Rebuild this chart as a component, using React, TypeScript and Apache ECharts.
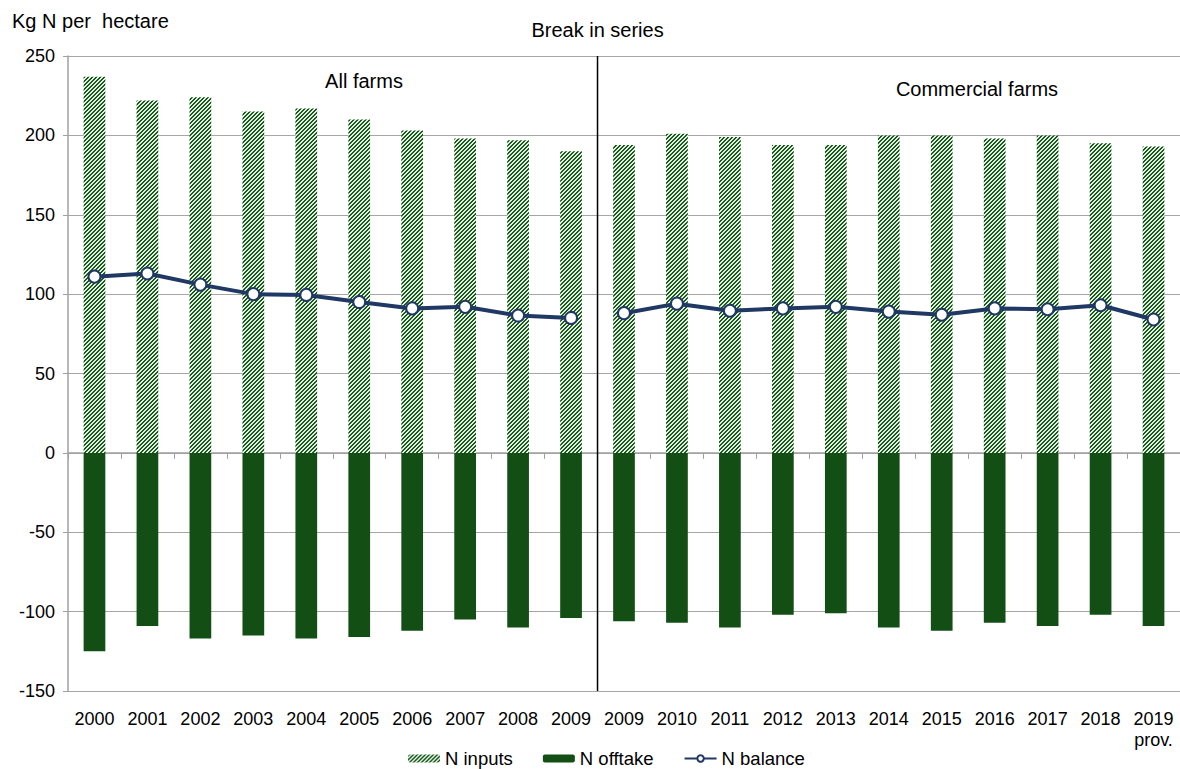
import React, { useEffect, useRef } from "react";
import * as echarts from "echarts";

const categories = ["2000","2001","2002","2003","2004","2005","2006","2007","2008","2009","2009","2010","2011","2012","2013","2014","2015","2016","2017","2018","2019\nprov."];
const nInputs = [237,222,224,215,217,210,203,198,197,190,194,201,199,194,194,200,200,198,200,195,193];
const nOfftake = [-125,-109,-117,-115,-117,-116,-112,-105,-110,-104,-106,-107,-110,-102,-101,-110,-112,-107,-109,-102,-109];
const nBalanceAll = [111,113,106,100,99.5,95,91,92,86.5,85];
const nBalanceCommercial = [88,94,89.5,91,92,89,87,91,90.5,93,84];
const yTicks = { min: -150, max: 250, interval: 50 };

const FONT = "'Liberation Sans', Arial, sans-serif";

function makeHatch(): HTMLCanvasElement {
  const c = document.createElement("canvas");
  const s = 8;
  c.width = s;
  c.height = s;
  const ctx = c.getContext("2d")!;
  ctx.fillStyle = "#e4eee4";
  ctx.fillRect(0, 0, s, s);
  ctx.fillStyle = "#185a1a";
  for (let x = 0; x < s; x++) {
    for (let y = 0; y < s; y++) {
      const d = (x + y) % 4;
      if (d === 0 || d === 1) ctx.fillRect(x, y, 1, 1);
    }
  }
  return c;
}

export default function App() {
  const ref = useRef<HTMLDivElement>(null);
  useEffect(() => {
    if (!ref.current) return;
    const chart = echarts.init(ref.current, undefined, { renderer: "svg" });
    const hatch = makeHatch();
    const balA = categories.map((_, i) => (i < nBalanceAll.length ? nBalanceAll[i] : "-"));
    const balC = categories.map((_, i) =>
      i < nBalanceAll.length ? "-" : nBalanceCommercial[i - nBalanceAll.length]
    );
    const lineColor = "#1f3864";
    chart.setOption({
      animation: false,
      textStyle: { fontFamily: FONT },
      grid: { left: 68, right: 0, top: 56, bottom: 78, containLabel: false },
      legend: {
        data: ["N inputs", "N offtake", "N balance"],
        top: 749,
        left: 408,
        padding: 0,
        itemWidth: 32,
        itemHeight: 8,
        itemGap: 30,
        textStyle: { fontSize: 18.5, color: "#000", fontFamily: FONT },
      },
      xAxis: [
        {
          type: "category",
          data: categories,
          position: "bottom",
          axisLine: { show: false, onZero: false },
          axisTick: { show: false },
          axisLabel: { fontSize: 18, color: "#000", margin: 17, interval: 0, lineHeight: 21, fontFamily: FONT },
          splitLine: { show: false },
        },
        {
          type: "category",
          data: categories,
          position: "bottom",
          axisLine: { show: true, onZero: true, lineStyle: { color: "#a0a0a0", width: 1.5 } },
          axisTick: { show: true, interval: 0, length: 6, lineStyle: { color: "#a0a0a0" } },
          axisLabel: { show: false },
          splitLine: { show: false },
        },
      ],
      yAxis: {
        type: "value",
        min: yTicks.min,
        max: yTicks.max,
        interval: yTicks.interval,
        axisLine: { show: true, lineStyle: { color: "#a0a0a0", width: 1.5 } },
        axisTick: { show: true, length: 5, lineStyle: { color: "#a0a0a0" } },
        axisLabel: { fontSize: 18, color: "#000", margin: 13, fontFamily: FONT },
        splitLine: { show: true, lineStyle: { color: "#a6a6a6", width: 1.2 } },
      },
      series: [
        {
          name: "N inputs",
          type: "bar",
          stack: "n",
          barWidth: "41%",
          xAxisIndex: 0,
          data: nInputs,
          itemStyle: { color: { image: hatch, repeat: "repeat" } },
        },
        {
          name: "N offtake",
          type: "bar",
          stack: "n",
          barWidth: "41%",
          xAxisIndex: 0,
          data: nOfftake,
          itemStyle: { color: "#134f15" },
        },
        {
          name: "N balance",
          type: "line",
          xAxisIndex: 0,
          data: balA,
          symbol: "circle",
          symbolSize: 12,
          lineStyle: { color: lineColor, width: 4 },
          itemStyle: { color: "#ffffff", borderColor: lineColor, borderWidth: 2 },
          z: 5,
        },
        {
          name: "N balance",
          type: "line",
          xAxisIndex: 0,
          data: balC,
          symbol: "circle",
          symbolSize: 12,
          lineStyle: { color: lineColor, width: 4 },
          itemStyle: { color: "#ffffff", borderColor: lineColor, borderWidth: 2 },
          z: 5,
        },
      ],
    });
    const x9 = chart.convertToPixel({ xAxisIndex: 0 }, 9) as number;
    const x10 = chart.convertToPixel({ xAxisIndex: 0 }, 10) as number;
    const bx = (x9 + x10) / 2;
    const yTop = chart.convertToPixel({ yAxisIndex: 0 }, yTicks.max) as number;
    const yBot = chart.convertToPixel({ yAxisIndex: 0 }, yTicks.min) as number;
    chart.setOption({
      graphic: [
        {
          type: "line",
          shape: { x1: bx, y1: yTop, x2: bx, y2: yBot },
          style: { stroke: "#000", lineWidth: 1.5 },
          z: 10,
        },
        {
          type: "text",
          x: 12,
          y: 11,
          style: { text: "Kg N per  hectare", fontSize: 20, fill: "#000", fontFamily: FONT },
        },
        {
          type: "text",
          x: bx,
          y: 20,
          style: { text: "Break in series", fontSize: 20, fill: "#000", fontFamily: FONT, textAlign: "center" },
        },
        {
          type: "text",
          x: 364,
          y: 71,
          style: { text: "All farms", fontSize: 20, fill: "#000", fontFamily: FONT, textAlign: "center" },
        },
        {
          type: "text",
          x: 977,
          y: 79,
          style: { text: "Commercial farms", fontSize: 20, fill: "#000", fontFamily: FONT, textAlign: "center" },
        },
      ],
    });
    return () => chart.dispose();
  }, []);
  return <div ref={ref} style={{ width: 1180, height: 769, position: "absolute", left: 0, top: 0 }} />;
}
